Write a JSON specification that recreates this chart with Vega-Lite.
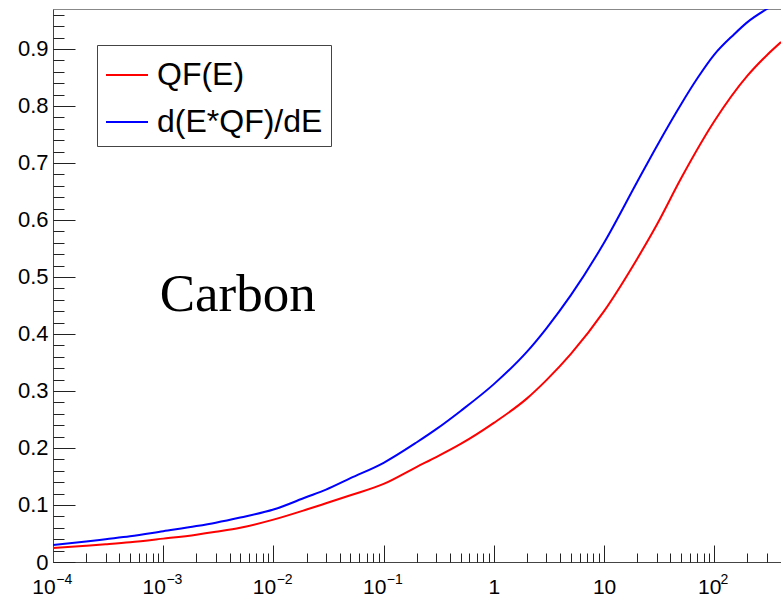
{
  "$schema": "https://vega.github.io/schema/vega-lite/v6.json",
  "width": 728,
  "height": 553,
  "autosize": {"type": "none"},
  "padding": {"left": 53, "top": 9, "right": 0, "bottom": 35},
  "background": "white",
  "config": {
    "view": {"stroke": "#888888", "strokeWidth": 1},
    "axis": {"grid": false, "labelFont": "Liberation Sans", "labelColor": "#000000", "domain": false, "ticks": false, "labels": false, "labelFlush": false, "labelOverlap": false, "tickColor": "#222222", "tickWidth": 1, "title": null}
  },
  "datasets": {
    "curves": [
      {"E": 0.0001, "v": 0.0245, "s": "QF(E)"},
      {"E": 0.0002, "v": 0.0285, "s": "QF(E)"},
      {"E": 0.0003, "v": 0.031, "s": "QF(E)"},
      {"E": 0.0005, "v": 0.0345, "s": "QF(E)"},
      {"E": 0.001, "v": 0.041, "s": "QF(E)"},
      {"E": 0.002, "v": 0.048, "s": "QF(E)"},
      {"E": 0.003, "v": 0.053, "s": "QF(E)"},
      {"E": 0.005, "v": 0.060, "s": "QF(E)"},
      {"E": 0.01, "v": 0.0743, "s": "QF(E)"},
      {"E": 0.02, "v": 0.092, "s": "QF(E)"},
      {"E": 0.03, "v": 0.103, "s": "QF(E)"},
      {"E": 0.05, "v": 0.117, "s": "QF(E)"},
      {"E": 0.1, "v": 0.137, "s": "QF(E)"},
      {"E": 0.2, "v": 0.167, "s": "QF(E)"},
      {"E": 0.3, "v": 0.184, "s": "QF(E)"},
      {"E": 0.5, "v": 0.207, "s": "QF(E)"},
      {"E": 1, "v": 0.244, "s": "QF(E)"},
      {"E": 2, "v": 0.287, "s": "QF(E)"},
      {"E": 3, "v": 0.319, "s": "QF(E)"},
      {"E": 5, "v": 0.365, "s": "QF(E)"},
      {"E": 10, "v": 0.440, "s": "QF(E)"},
      {"E": 20, "v": 0.532, "s": "QF(E)"},
      {"E": 30, "v": 0.591, "s": "QF(E)"},
      {"E": 50, "v": 0.673, "s": "QF(E)"},
      {"E": 100, "v": 0.773, "s": "QF(E)"},
      {"E": 200, "v": 0.853, "s": "QF(E)"},
      {"E": 300, "v": 0.889, "s": "QF(E)"},
      {"E": 403, "v": 0.912, "s": "QF(E)"},
      {"E": 0.0001, "v": 0.030, "s": "d(E*QF)/dE"},
      {"E": 0.0002, "v": 0.036, "s": "d(E*QF)/dE"},
      {"E": 0.0003, "v": 0.040, "s": "d(E*QF)/dE"},
      {"E": 0.0005, "v": 0.045, "s": "d(E*QF)/dE"},
      {"E": 0.001, "v": 0.054, "s": "d(E*QF)/dE"},
      {"E": 0.002, "v": 0.063, "s": "d(E*QF)/dE"},
      {"E": 0.003, "v": 0.069, "s": "d(E*QF)/dE"},
      {"E": 0.005, "v": 0.078, "s": "d(E*QF)/dE"},
      {"E": 0.01, "v": 0.092, "s": "d(E*QF)/dE"},
      {"E": 0.02, "v": 0.114, "s": "d(E*QF)/dE"},
      {"E": 0.03, "v": 0.127, "s": "d(E*QF)/dE"},
      {"E": 0.05, "v": 0.147, "s": "d(E*QF)/dE"},
      {"E": 0.1, "v": 0.174, "s": "d(E*QF)/dE"},
      {"E": 0.2, "v": 0.210, "s": "d(E*QF)/dE"},
      {"E": 0.3, "v": 0.233, "s": "d(E*QF)/dE"},
      {"E": 0.5, "v": 0.265, "s": "d(E*QF)/dE"},
      {"E": 1, "v": 0.312, "s": "d(E*QF)/dE"},
      {"E": 2, "v": 0.369, "s": "d(E*QF)/dE"},
      {"E": 3, "v": 0.410, "s": "d(E*QF)/dE"},
      {"E": 5, "v": 0.468, "s": "d(E*QF)/dE"},
      {"E": 10, "v": 0.560, "s": "d(E*QF)/dE"},
      {"E": 20, "v": 0.667, "s": "d(E*QF)/dE"},
      {"E": 30, "v": 0.729, "s": "d(E*QF)/dE"},
      {"E": 50, "v": 0.803, "s": "d(E*QF)/dE"},
      {"E": 70, "v": 0.848, "s": "d(E*QF)/dE"},
      {"E": 100, "v": 0.890, "s": "d(E*QF)/dE"},
      {"E": 150, "v": 0.925, "s": "d(E*QF)/dE"},
      {"E": 200, "v": 0.947, "s": "d(E*QF)/dE"},
      {"E": 300, "v": 0.970, "s": "d(E*QF)/dE"},
      {"E": 403, "v": 0.984, "s": "d(E*QF)/dE"}
    ],
    "label": [{"E": 0.00093, "v": 0.441, "t": "Carbon"}]
  },
  "data": {"name": "curves"},
  "resolve": {"axis": {"x": "independent", "y": "independent"}},
  "layer": [
    {
      "mark": {"type": "line", "clip": true, "strokeWidth": 2, "interpolate": "monotone"},
      "encoding": {
        "x": {"field": "E", "type": "quantitative",
          "scale": {"type": "log", "domain": [0.0001, 403], "nice": false},
          "axis": {"orient": "bottom", "domain": true, "domainColor": "#444444", "labels": true, "ticks": false, "tickSize": 0,
            "values": [0.0001, 0.001, 0.01, 0.1, 100],
            "labelExpr": "'10'", "labelFontSize": 21, "labelBaseline": "top", "labelAlign": "center", "labelPadding": 14,
            "labelOffset": {"condition": {"test": "datum.value > 50", "value": -5}, "value": -9.5}}},
        "y": {"field": "v", "type": "quantitative",
          "scale": {"domain": [0, 0.97], "nice": false, "zero": false},
          "axis": {"orient": "left", "domain": true, "domainColor": "#444444", "labels": true, "ticks": false, "tickSize": 0,
            "values": [0, 0.1, 0.2, 0.3, 0.4, 0.5, 0.6, 0.7, 0.8, 0.9],
            "labelExpr": "datum.value == 0 ? '0' : format(datum.value, '.1f')", "labelFontSize": 22, "labelPadding": 5, "labelAlign": "right", "labelBaseline": "middle"}},
        "color": {"field": "s", "type": "nominal",
          "scale": {"domain": ["QF(E)", "d(E*QF)/dE"], "range": ["#ff0000", "#0000ff"]},
          "legend": {"title": null, "orient": "none", "legendX": 44, "legendY": 36, "symbolType": "stroke", "symbolSize": 1764, "symbolStrokeWidth": 2,
            "labelFontSize": 32, "labelFont": "Liberation Sans", "labelColor": "#000000", "labelOffset": 8, "labelLimit": 0, "padding": 8, "rowPadding": 9,
            "strokeColor": "#444444", "fillColor": "#ffffff"}}
      }
    },
    {
      "mark": {"type": "point", "opacity": 0},
      "encoding": {
        "x": {"field": "E", "type": "quantitative",
          "scale": {"type": "log", "domain": [0.0001, 403], "nice": false},
          "axis": {"orient": "bottom", "labels": true, "ticks": false, "tickSize": 0, "values": [1, 10],
            "labelExpr": "datum.value < 5 ? '1' : '10'", "labelFontSize": 21, "labelBaseline": "top", "labelAlign": "center", "labelPadding": 14}},
        "y": {"field": "v", "type": "quantitative", "scale": {"domain": [0, 0.97], "nice": false, "zero": false}, "axis": null}
      }
    },
    {
      "mark": {"type": "point", "opacity": 0},
      "encoding": {
        "x": {"field": "E", "type": "quantitative",
          "scale": {"type": "log", "domain": [0.0001, 403], "nice": false},
          "axis": {"orient": "bottom", "labels": true, "ticks": false, "tickSize": 0, "values": [0.0001, 0.001, 0.01, 0.1, 100],
            "labelExpr": "datum.value < 0.0005 ? '\u22124' : datum.value < 0.005 ? '\u22123' : datum.value < 0.05 ? '\u22122' : datum.value < 0.5 ? '\u22121' : '2'",
            "labelFontSize": 14, "labelBaseline": "top", "labelAlign": "left", "labelPadding": 10,
            "labelOffset": {"condition": {"test": "datum.value > 50", "value": 5.7}, "value": 2.7}}},
        "y": {"field": "v", "type": "quantitative", "scale": {"domain": [0, 0.97], "nice": false, "zero": false}, "axis": null}
      }
    },
    {
      "mark": {"type": "point", "opacity": 0},
      "encoding": {
        "x": {"field": "E", "type": "quantitative",
          "scale": {"type": "log", "domain": [0.0001, 403], "nice": false},
          "axis": {"orient": "bottom", "labels": false, "ticks": true, "tickSize": -17, "values": [0.0001, 0.001, 0.01, 0.1, 1, 10, 100]}},
        "y": {"field": "v", "type": "quantitative", "scale": {"domain": [0, 0.97], "nice": false, "zero": false},
          "axis": {"orient": "left", "labels": false, "ticks": true, "tickSize": -22, "values": [0, 0.1, 0.2, 0.3, 0.4, 0.5, 0.6, 0.7, 0.8, 0.9]}}
      }
    },
    {
      "mark": {"type": "point", "opacity": 0},
      "encoding": {
        "x": {"field": "E", "type": "quantitative",
          "scale": {"type": "log", "domain": [0.0001, 403], "nice": false},
          "axis": {"orient": "bottom", "labels": false, "ticks": true, "tickSize": -9,
            "values": [0.0002, 0.0003, 0.0004, 0.0005, 0.0006, 0.0007, 0.0008, 0.0009, 0.002, 0.003, 0.004, 0.005, 0.006, 0.007, 0.008, 0.009, 0.02, 0.03, 0.04, 0.05, 0.06, 0.07, 0.08, 0.09, 0.2, 0.3, 0.4, 0.5, 0.6, 0.7, 0.8, 0.9, 2, 3, 4, 5, 6, 7, 8, 9, 20, 30, 40, 50, 60, 70, 80, 90, 200, 300]}},
        "y": {"field": "v", "type": "quantitative", "scale": {"domain": [0, 0.97], "nice": false, "zero": false},
          "axis": {"orient": "left", "labels": false, "ticks": true, "tickSize": -11,
            "values": [0.02, 0.04, 0.06, 0.08, 0.12, 0.14, 0.16, 0.18, 0.22, 0.24, 0.26, 0.28, 0.32, 0.34, 0.36, 0.38, 0.42, 0.44, 0.46, 0.48, 0.52, 0.54, 0.56, 0.58, 0.62, 0.64, 0.66, 0.68, 0.72, 0.74, 0.76, 0.78, 0.82, 0.84, 0.86, 0.88, 0.92, 0.94, 0.96]}}
      }
    },
    {
      "data": {"name": "label"},
      "mark": {"type": "text", "align": "left", "baseline": "alphabetic", "font": "Liberation Serif", "fontSize": 53, "color": "#000000"},
      "encoding": {
        "x": {"field": "E", "type": "quantitative", "scale": {"type": "log", "domain": [0.0001, 403], "nice": false}, "axis": null},
        "y": {"field": "v", "type": "quantitative", "scale": {"domain": [0, 0.97], "nice": false, "zero": false}, "axis": null},
        "text": {"field": "t"}
      }
    }
  ]
}
